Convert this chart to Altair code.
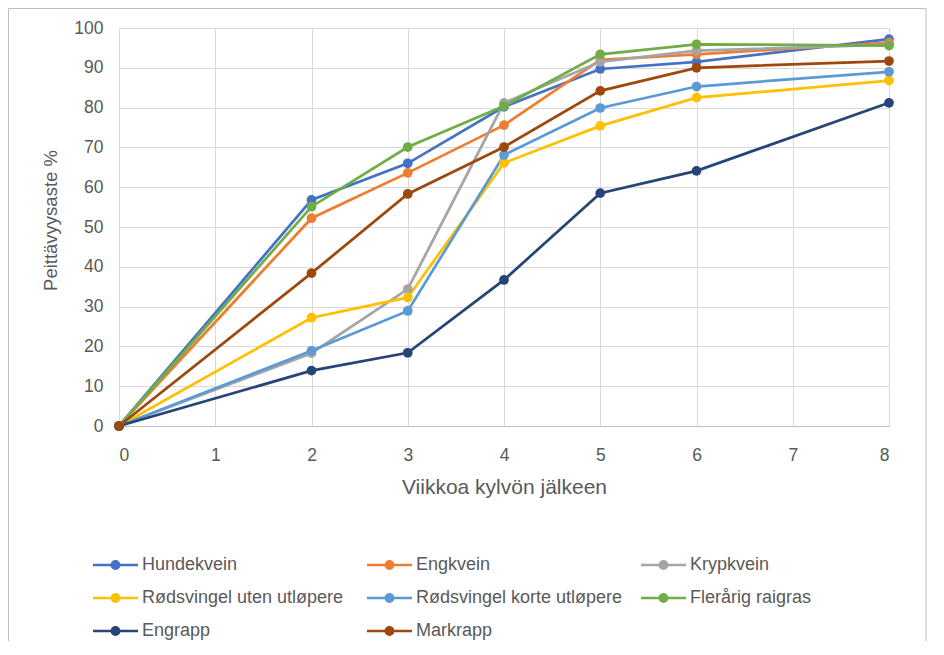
import altair as alt
import pandas as pd

weeks = [0, 2, 3, 4, 5, 6, 8]
series_names = [
    "Hundekvein", "Engkvein", "Krypkvein",
    "Rødsvingel uten utløpere", "Rødsvingel korte utløpere", "Flerårig raigras",
    "Engrapp", "Markrapp",
]
colors = ["#4472C4", "#ED7D31", "#A5A5A5", "#FFC000", "#5B9BD5", "#70AD47", "#264478", "#9E480E"]

hundekvein = [0, 56.8, 66.0, 80.2, 89.7, 91.5, 97.2]
engkvein = [0, 52.2, 63.6, 75.6, 92.0, 93.4, 96.3]
krypkvein = [0, 18.3, 34.4, 81.2, 91.5, 94.3, 95.8]
rods_uten = [0, 27.2, 32.3, 66.1, 75.4, 82.5, 86.8]
rods_korte = [0, 18.9, 28.9, 68.1, 79.9, 85.3, 89.0]
flerarig = [0, 55.1, 70.1, 80.4, 93.4, 95.9, 95.6]
engrapp = [0, 13.9, 18.4, 36.7, 58.5, 64.1, 81.2]
markrapp = [0, 38.4, 58.3, 70.1, 84.2, 90.0, 91.7]

x_ticks = list(range(0, 9))
y_ticks = list(range(0, 101, 10))

all_values = [hundekvein, engkvein, krypkvein, rods_uten, rods_korte, flerarig, engrapp, markrapp]
rows = []
for i, (name, vals) in enumerate(zip(series_names, all_values)):
    for w, v in zip(weeks, vals):
        rows.append({"series": name, "ord": i, "week": w, "value": v})
df = pd.DataFrame(rows)

FONT = "Liberation Sans"
TXT = "#595959"

# legend symbol: a line (thin filled bar) with a dot in the middle
legend_path = (
    "M-1,-0.15H4V0.15H-1Z "
    "M0.95,0A0.55,0.55 0 1,1 2.05,0A0.55,0.55 0 1,1 0.95,0Z"
)

x_enc = alt.X(
    "week:Q",
    scale=alt.Scale(domain=[0, 8], nice=False, zero=False),
    axis=alt.Axis(
        values=x_ticks, format="d", title="Viikkoa kylvön jälkeen",
        grid=True, domain=True, domainColor="#BFBFBF", domainWidth=1,
        tickSize=0, labelPadding=20, titleY=61, titleBaseline="middle",
        titleFontSize=21,
    ),
)
y_enc = alt.Y(
    "value:Q",
    scale=alt.Scale(domain=[0, 100], nice=False),
    axis=alt.Axis(
        values=y_ticks, title="Peittävyysaste %", grid=True, domain=False,
        tickSize=0, labelPadding=16, titleX=-69, titleY=192,
        titleAlign="center", titleBaseline="middle", titleAngle=270,
        titleFontSize=18.5,
    ),
)
color_scale = alt.Scale(domain=series_names, range=colors)


def make_legend():
    return alt.Legend(
        title=None, orient="none", legendX=-26, legendY=528,
        direction="horizontal",
        columns=3, gridAlign="all", columnPadding=18, rowPadding=15,
        symbolType=legend_path, symbolSize=324, symbolOpacity=1,
        symbolStrokeWidth=0,
        labelOffset=31, labelFontSize=18, labelFont=FONT, labelColor=TXT,
        labelLimit=400,
    )


lines = alt.Chart(df).mark_line(strokeWidth=2.75).encode(
    x=x_enc, y=y_enc,
    color=alt.Color("series:N", scale=color_scale, legend=make_legend()),
    order="ord:Q",
)
points = alt.Chart(df).mark_point(filled=True, size=95, opacity=1).encode(
    x=x_enc, y=y_enc,
    color=alt.Color("series:N", scale=color_scale, legend=make_legend()),
    order="ord:Q",
)

frame = alt.Chart(pd.DataFrame({"f": [0]})).mark_rect(
    fill=None, stroke="#BFBFBF", strokeWidth=1
).encode(
    x=alt.value(-110.5), x2=alt.value(807), y=alt.value(-19.5), y2=alt.value(700)
)

chart = alt.layer(frame, lines, points).properties(
    width=770, height=398,
    autosize=alt.AutoSizeParams(type="none"),
    padding={"left": 111, "top": 20, "right": 47, "bottom": 215},
).configure_view(stroke=None).configure_axis(
    labelFont=FONT, labelFontSize=17.5, labelColor=TXT,
    titleFont=FONT, titleFontWeight="normal", titleColor=TXT,
    gridColor="#D9D9D9", gridWidth=1,
)

chart.save("out.html", embed_options={"renderer": "svg", "actions": False})
